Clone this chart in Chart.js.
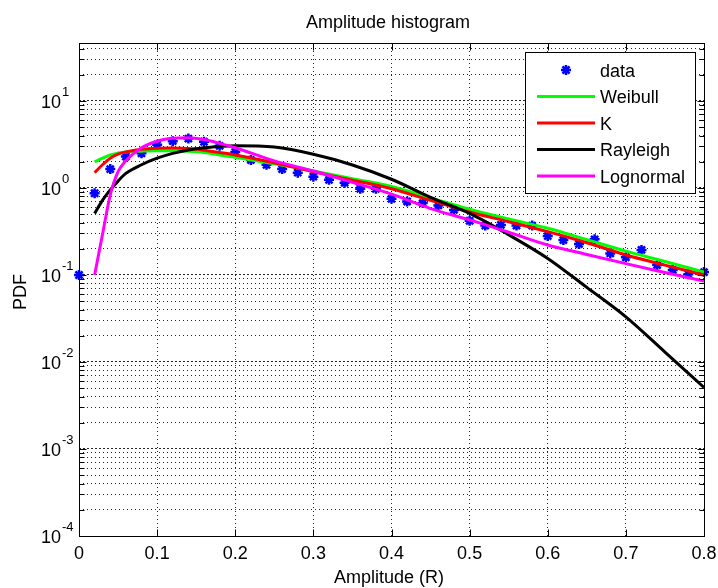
<!DOCTYPE html>
<html>
<head>
<meta charset="utf-8">
<title>Amplitude histogram</title>
<script src="https://cdn.jsdelivr.net/npm/chart.js@4.4.1/dist/chart.umd.min.js"></script>
<style>
  html, body { margin: 0; padding: 0; background: #fff; }
  #wrap { width: 718px; height: 588px; position: relative; }
</style>
</head>
<body>
<div id="wrap"><canvas id="chart"></canvas></div>
<script>
// histogram samples (blue stars)
const dataX = [0, 0.02, 0.04, 0.06, 0.08, 0.10, 0.12, 0.14, 0.16, 0.18, 0.20, 0.22, 0.24, 0.26, 0.28, 0.30,
  0.32, 0.34, 0.36, 0.38, 0.40, 0.42, 0.44, 0.46, 0.48, 0.50, 0.52, 0.54, 0.56, 0.58, 0.60, 0.62, 0.64,
  0.66, 0.68, 0.70, 0.72, 0.74, 0.76, 0.78, 0.80];
const dataPdf = [0.10, 0.87, 1.65, 2.3, 2.5, 3.15, 3.45, 3.7, 3.4, 3.05, 2.6, 2.1, 1.85, 1.65, 1.5, 1.35,
  1.24, 1.15, 0.98, 0.98, 0.75, 0.70, 0.67, 0.63, 0.56, 0.42, 0.37, 0.376, 0.37, 0.37, 0.28, 0.252, 0.227,
  0.257, 0.177, 0.16, 0.194, 0.13, 0.114, 0.102, 0.108];

// fitted distributions
const fitX = [0.02, 0.03, 0.04, 0.05, 0.06, 0.08, 0.10, 0.12, 0.14, 0.16, 0.18, 0.20, 0.25, 0.30, 0.35,
  0.40, 0.45, 0.50, 0.55, 0.60, 0.65, 0.70, 0.75, 0.80];
const weibullPdf = [2.0, 2.2, 2.4, 2.52, 2.6, 2.65, 2.68, 2.68, 2.64, 2.56, 2.4, 2.25, 1.9, 1.57, 1.28,
  1.04, 0.77, 0.57, 0.44, 0.345, 0.255, 0.188, 0.143, 0.108];
const kPdf = [1.5, 1.85, 2.2, 2.45, 2.6, 2.78, 2.86, 2.88, 2.84, 2.72, 2.56, 2.4, 1.95, 1.54, 1.23,
  0.98, 0.72, 0.53, 0.41, 0.315, 0.235, 0.17, 0.13, 0.1];
const rayleighPdf = [0.51, 0.72, 0.95, 1.2, 1.47, 1.85, 2.2, 2.5, 2.73, 2.9, 3.0, 3.06, 2.95, 2.44, 1.84,
  1.26, 0.78, 0.51, 0.29, 0.155, 0.072, 0.033, 0.013, 0.0051];
const lognormalPdf = [0.1, 0.29, 0.83, 1.54, 2.05, 2.9, 3.45, 3.72, 3.78, 3.6, 3.26, 2.9, 2.05, 1.57, 1.16,
  0.85, 0.58, 0.43, 0.31, 0.221, 0.172, 0.135, 0.107, 0.085];

const seriesNames = ['data', 'Weibull', 'K', 'Rayleigh', 'Lognormal'];
const xTickValues = [0, 0.1, 0.2, 0.3, 0.4, 0.5, 0.6, 0.7, 0.8];
const xTickLabels = ['0', '0.1', '0.2', '0.3', '0.4', '0.5', '0.6', '0.7', '0.8'];
const yDecades = [1e-4, 1e-3, 1e-2, 1e-1, 1, 10];
const yExponents = ['-4', '-3', '-2', '-1', '0', '1'];
const yMin = 1e-4;
const yMax = 46.4;

const FONT = '"Liberation Sans", Arial, Helvetica, sans-serif';

function toPoints(xs, ys) {
  return xs.map((x, i) => ({x: x, y: ys[i]}));
}

function isDecade(v) {
  const l = Math.log10(v);
  return Math.abs(l - Math.round(l)) < 1e-9;
}

function curve(label, ys, color, order) {
  return {
    label: label,
    data: toPoints(fitX, ys),
    showLine: true,
    borderColor: color,
    backgroundColor: color,
    borderWidth: 3,
    pointRadius: 0,
    cubicInterpolationMode: 'monotone',
    order: order
  };
}

// axes box, inward ticks, tick labels, titles and legend, MATLAB style
const matlabAxes = {
  id: 'matlabAxes',
  afterDraw(chart) {
    const ctx = chart.ctx;
    const a = chart.chartArea;
    const xs = chart.scales.x;
    const ys = chart.scales.y;
    const L = Math.round(a.left) + 0.5, R = Math.round(a.right) + 0.5;
    const T = Math.round(a.top) + 0.5, B = Math.round(a.bottom) + 0.5;

    ctx.save();
    ctx.strokeStyle = '#000';
    ctx.lineWidth = 1;
    ctx.setLineDash([]);
    ctx.strokeRect(L, T, R - L, B - T);

    // x tick marks, top and bottom
    ctx.beginPath();
    xTickValues.forEach(v => {
      const px = Math.round(xs.getPixelForValue(v)) + 0.5;
      ctx.moveTo(px, B); ctx.lineTo(px, B - 7);
      ctx.moveTo(px, T); ctx.lineTo(px, T + 7);
    });
    // y tick marks, left and right
    ys.ticks.forEach(t => {
      const py = Math.round(ys.getPixelForValue(t.value)) + 0.5;
      const len = isDecade(t.value) ? 7 : 5;
      ctx.moveTo(L, py); ctx.lineTo(L + len, py);
      ctx.moveTo(R, py); ctx.lineTo(R - len, py);
    });
    ctx.stroke();

    ctx.fillStyle = '#000';
    // x tick labels
    ctx.font = '18px ' + FONT;
    ctx.textAlign = 'center';
    ctx.textBaseline = 'alphabetic';
    xTickValues.forEach((v, i) => {
      ctx.fillText(xTickLabels[i], xs.getPixelForValue(v), 559);
    });
    // y tick labels 10^k
    yDecades.forEach((v, i) => {
      const py = ys.getPixelForValue(v);
      ctx.font = '18px ' + FONT;
      ctx.textAlign = 'right';
      ctx.fillText('10', 61, py + 7);
      ctx.font = '13px ' + FONT;
      ctx.textAlign = 'left';
      ctx.fillText(yExponents[i], 62, py - 5);
    });

    // titles
    ctx.font = '18px ' + FONT;
    ctx.textAlign = 'center';
    ctx.fillText('Amplitude histogram', 388, 28);
    ctx.fillText('Amplitude (R)', 389, 583);
    ctx.save();
    ctx.translate(26, 292);
    ctx.rotate(-Math.PI / 2);
    ctx.fillText('PDF', 0, 0);
    ctx.restore();

    // legend
    const lx = 525.5, ly = 52.5, lw = 170, lh = 141;
    ctx.fillStyle = '#fff';
    ctx.fillRect(lx, ly, lw, lh);
    ctx.strokeRect(lx, ly, lw, lh);
    chart.data.datasets.forEach((ds, i) => {
      const y = 70 + i * 26.5;
      if (ds.showLine) {
        ctx.strokeStyle = ds.borderColor;
        ctx.lineWidth = 3;
        ctx.beginPath();
        ctx.moveTo(537, y);
        ctx.lineTo(595, y);
        ctx.stroke();
      } else {
        ctx.strokeStyle = ds.borderColor;
        ctx.lineWidth = ds.borderWidth;
        Chart.helpers.drawPoint(ctx, {pointStyle: 'star', radius: ds.pointRadius, borderWidth: ds.borderWidth}, 566, y);
      }
      ctx.fillStyle = '#000';
      ctx.font = '18px ' + FONT;
      ctx.textAlign = 'left';
      ctx.fillText(ds.label, 600, y + 6.5);
    });
    ctx.restore();
  }
};

new Chart(document.getElementById('chart'), {
  type: 'scatter',
  data: {
    datasets: [
      {
        label: seriesNames[0],
        data: toPoints(dataX, dataPdf),
        showLine: false,
        pointStyle: 'star',
        pointRadius: 5,
        borderWidth: 2.5,
        borderColor: '#0000ff',
        backgroundColor: '#0000ff',
        clip: false,
        order: 5
      },
      curve(seriesNames[1], weibullPdf, '#00ff00', 4),
      curve(seriesNames[2], kPdf, '#ff0000', 3),
      curve(seriesNames[3], rayleighPdf, '#000000', 2),
      curve(seriesNames[4], lognormalPdf, '#ff00ff', 1)
    ]
  },
  options: {
    responsive: true,
    maintainAspectRatio: false,
    animation: false,
    layout: {
      padding: {left: 79, right: 14, top: 43, bottom: 52}
    },
    plugins: {
      legend: {display: false},
      title: {display: false},
      tooltip: {enabled: false}
    },
    scales: {
      x: {
        type: 'linear',
        min: 0,
        max: 0.8,
        afterBuildTicks: scale => {
          scale.ticks = xTickValues.map(v => ({value: v}));
        },
        ticks: {display: false},
        grid: {
          color: 'rgba(0,0,0,0.85)',
          lineWidth: 1,
          drawTicks: false
        },
        border: {display: false, dash: [1, 3]}
      },
      y: {
        type: 'logarithmic',
        min: yMin,
        max: yMax,
        afterBuildTicks: scale => {
          const ticks = [];
          yDecades.forEach(d => {
            for (let m = 1; m <= 9; m++) {
              const v = m * d;
              if (v <= yMax) ticks.push({value: v, major: m === 1});
            }
          });
          scale.ticks = ticks;
        },
        ticks: {display: false},
        grid: {
          color: 'rgba(0,0,0,0.85)',
          lineWidth: 1,
          drawTicks: false
        },
        border: {
          display: false,
          dash: ctx => (ctx.tick && isDecade(ctx.tick.value)) ? [2, 2] : [1, 3]
        }
      }
    }
  },
  plugins: [matlabAxes]
});
</script>
</body>
</html>
